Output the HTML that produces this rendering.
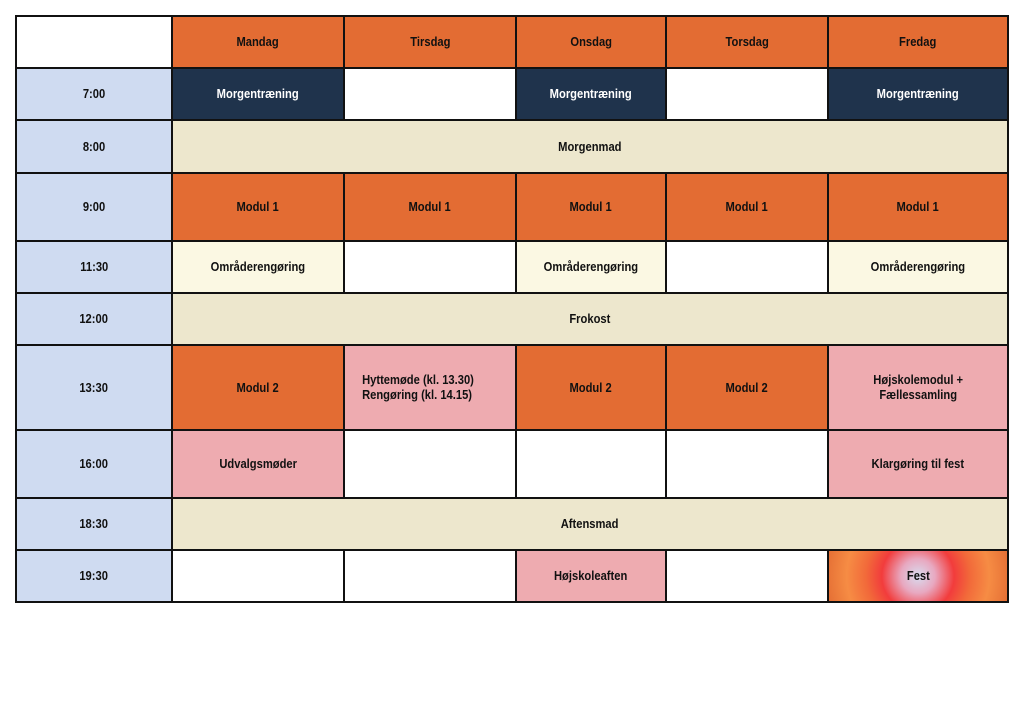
<!DOCTYPE html>
<html><head><meta charset="utf-8"><style>
body{margin:0;width:1024px;height:724px;background:#fff;position:relative;overflow:hidden;font-family:"Liberation Sans Narrow","Liberation Sans",sans-serif;font-weight:bold;font-size:13px;color:#111}
.c{position:absolute;box-sizing:border-box;border:2.5px solid #111;display:flex;align-items:center;justify-content:center;text-align:center;line-height:15px;padding-bottom:1px}
.c span{display:inline-block;transform:scaleX(0.86)}
.t{background:#cfdbf1}.o{background:#e36c33}.n{background:#1f334c;color:#fff}.b{background:#ede7cd}.y{background:#fbf8e3}.p{background:#eeabb0}.w{background:#fff}
</style></head><body>
<script>
const X=[15,171,343,515,665,827,1007],Y=[15,67,119,172,240,292,344,429,497,549,601];
const rows=[
[['w',''],['o','Mandag'],['o','Tirsdag'],['o','Onsdag'],['o','Torsdag'],['o','Fredag']],
[['t','7:00'],['n','Morgentræning'],['w',''],['n','Morgentræning'],['w',''],['n','Morgentræning']],
[['t','8:00'],['b','Morgenmad',5]],
[['t','9:00'],['o','Modul 1'],['o','Modul 1'],['o','Modul 1'],['o','Modul 1'],['o','Modul 1']],
[['t','11:30'],['y','Områderengøring'],['w',''],['y','Områderengøring'],['w',''],['y','Områderengøring']],
[['t','12:00'],['b','Frokost',5]],
[['t','13:30'],['o','Modul 2'],['p','<div style="text-align:left;margin-left:-28px">Hyttemøde (kl. 13.30)<br>Rengøring (kl. 14.15)</div>'],['o','Modul 2'],['o','Modul 2'],['p','Højskolemodul +<br>Fællessamling']],
[['t','16:00'],['p','Udvalgsmøder'],['w',''],['w',''],['w',''],['p','Klargøring til fest']],
[['t','18:30'],['b','Aftensmad',5]],
[['t','19:30'],['w',''],['w',''],['p','Højskoleaften'],['w',''],['f','Fest']]];
let h='';
rows.forEach((r,j)=>{let i=0;r.forEach(c=>{const s=c[2]||1;const st=c[0]=='f'?'background:radial-gradient(circle 95px at 50% 50%,#d8dcef 0%,#e8a8c0 18%,#f23c3c 38%,#f26a3a 55%,#f68c44 75%,#e36c33 100%);':'';
h+=`<div class="c ${c[0]}" style="left:${X[i]}px;top:${Y[j]}px;width:${X[i+s]-X[i]+2}px;height:${Y[j+1]-Y[j]+2}px;${st}">${c[1]?'<span>'+c[1]+'</span>':''}</div>`;i+=s;});});
document.write(h);
</script>
</body></html>
